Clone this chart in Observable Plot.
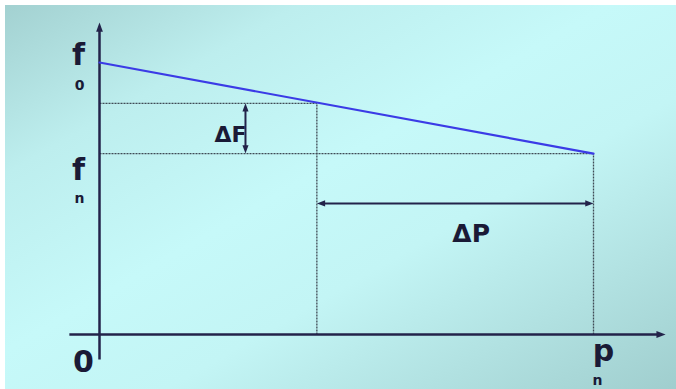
<!DOCTYPE html>
<html>
<head>
<meta charset="utf-8">
<script src="https://cdn.jsdelivr.net/npm/d3@7"></script>
<script src="https://cdn.jsdelivr.net/npm/@observablehq/plot@0.6"></script>
<style>
  html, body { margin: 0; padding: 0; background: #fff; }
</style>
</head>
<body>
<div id="chart"></div>
<script>
// Power (x) positions: origin, intermediate p, p_n
const pValues = [0, 4.4, 10];
// Frequency (y) values: f0, intermediate f, f_n
const fValues = [10, 8.5, 6.65];
// Axis extents (data units)
const xAxisExtent = [-0.61, 11.46];
const yAxisExtent = [-0.92, 11.47];
// Position of the ΔF and ΔP dimension arrows
const deltaFx = 2.955;
const deltaPy = 4.82;
// Text labels
const labelTexts = ["f", "0", "f", "n", "0", "p", "n", "ΔF", "ΔP"];

const [p0, p1, pn] = pValues;
const [f0, f1, fn] = fValues;

const ink = "#23234a";
const textInk = "#1a1a36";

// custom arrowhead symbol with the tip at the origin, pointing up
const head = {
  draw(ctx, size) {
    const s = Math.sqrt(size / Math.PI);
    ctx.moveTo(0, 0);
    ctx.lineTo(-s * 0.85, s * 2.3);
    ctx.lineTo(s * 0.85, s * 2.3);
    ctx.closePath();
  }
};

const slope = [{x: p0, y: f0}, {x: pn, y: fn}];

const dotted = [
  {x1: p0, y1: f1, x2: p1, y2: f1},
  {x1: p0, y1: fn, x2: pn, y2: fn},
  {x1: p1, y1: 0, x2: p1, y2: f1},
  {x1: pn, y1: 0, x2: pn, y2: fn}
];

const axes = [
  {x1: xAxisExtent[0], y1: 0, x2: xAxisExtent[1] - 0.1, y2: 0},
  {x1: 0, y1: yAxisExtent[0], x2: 0, y2: yAxisExtent[1] - 0.2}
];
const axisHeads = [
  {x: xAxisExtent[1], y: 0, rot: 90},
  {x: 0, y: yAxisExtent[1], rot: 0}
];

const dims = [
  {x1: deltaFx, y1: f1 - 0.15, x2: deltaFx, y2: fn + 0.15},
  {x1: p1 + 0.1, y1: deltaPy, x2: pn - 0.1, y2: deltaPy}
];
const dimHeads = [
  {x: deltaFx, y: f1, rot: 0},
  {x: deltaFx, y: fn, rot: 180},
  {x: p1, y: deltaPy, rot: 270},
  {x: pn, y: deltaPy, rot: 90}
];

const labels = [
  {t: labelTexts[0], x: p0, y: f0, size: 30, dx: -21, dy: -7},
  {t: labelTexts[1], x: p0, y: f0, size: 14, dx: -20, dy: 23},
  {t: labelTexts[2], x: p0, y: fn, size: 30, dx: -21, dy: 17},
  {t: labelTexts[3], x: p0, y: fn, size: 14, dx: -20, dy: 45},
  {t: labelTexts[4], x: p0, y: 0, size: 30, dx: -16, dy: 28},
  {t: labelTexts[5], x: pn, y: 0, size: 30, dx: 10, dy: 17},
  {t: labelTexts[6], x: pn, y: 0, size: 14, dx: 4, dy: 46},
  {t: labelTexts[7], x: deltaFx, y: (f1 + fn) / 2, size: 22, dx: -15, dy: 6},
  {t: labelTexts[8], x: (p1 + pn) / 2, y: deltaPy, size: 25, dx: 16, dy: 31}
];

const font = "'DejaVu Sans', 'Liberation Sans', sans-serif";

const textMarks = labels.map(d => Plot.text([d], {
  x: "x", y: "y", text: "t", dx: d.dx, dy: d.dy,
  fontSize: d.size, fontWeight: "bold", fill: textInk,
  textAnchor: "middle", lineAnchor: "middle", fontFamily: font
}));

const chart = Plot.plot({
  width: 676,
  height: 389,
  marginLeft: 99,
  marginRight: 83,
  marginTop: 62,
  marginBottom: 55,
  x: {domain: [0, 10], axis: null},
  y: {domain: [0, 10], axis: null},
  style: {
    background: "linear-gradient(to bottom right, #a3d1d1 0%, #bdeeee 22%, #c6f9f9 45%, #c3f5f5 62%, #a0cece 100%) 5px 5px / 671px 384px no-repeat #ffffff",
    overflow: "visible"
  },
  marks: [
    Plot.link(dotted, {x1: "x1", y1: "y1", x2: "x2", y2: "y2", stroke: "#3f4a55", strokeWidth: 1.3, strokeDasharray: "2,1"}),
    Plot.link(axes, {x1: "x1", y1: "y1", x2: "x2", y2: "y2", stroke: ink, strokeWidth: 2.5}),
    Plot.dot(axisHeads, {x: "x", y: "y", rotate: "rot", symbol: head, r: 4, fill: ink, stroke: "none"}),
    Plot.line(slope, {x: "x", y: "y", stroke: "#3b3be6", strokeWidth: 2.2}),
    Plot.link(dims, {x1: "x1", y1: "y1", x2: "x2", y2: "y2", stroke: ink, strokeWidth: 2}),
    Plot.dot(dimHeads, {x: "x", y: "y", rotate: "rot", symbol: head, r: 3.6, fill: ink, stroke: "none"}),
    ...textMarks
  ]
});

document.getElementById("chart").appendChild(chart);
</script>
</body>
</html>
